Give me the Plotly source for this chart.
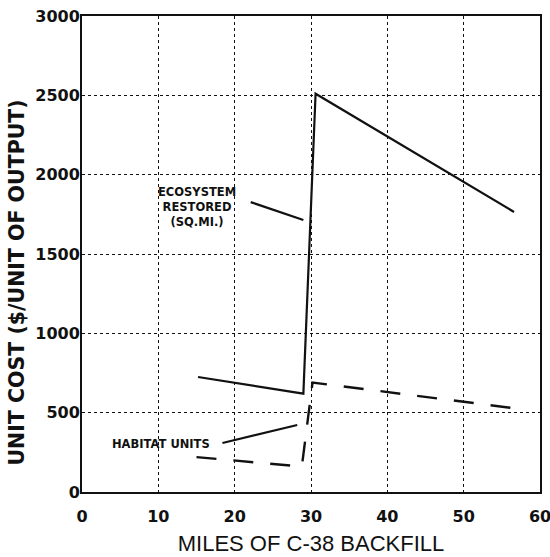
import plotly.graph_objects as go

# Ecosystem restored (sq. mi.) unit cost, solid line
eco_miles = [15.2, 29.0, 30.6, 56.6]
eco_cost = [725, 620, 2510, 1765]

# Habitat units unit cost, dashed line
hab_miles = [15.0, 28.8, 30.2, 56.3]
hab_cost = [220, 160, 690, 530]

# leader lines from the labels to the curves
eco_leader_x = [22.1, 29.0]
eco_leader_y = [1827, 1714]
hab_leader_x = [18.4, 28.2]
hab_leader_y = [309, 422]

x_ticks = [0, 10, 20, 30, 40, 50, 60]
y_ticks = [0, 500, 1000, 1500, 2000, 2500, 3000]

INK = "#111111"
BOLD_FONT = "DejaVu Sans, Arial, sans-serif"
PLAIN_FONT = "Liberation Sans, Arial, sans-serif"

fig = go.Figure()
fig.add_trace(go.Scatter(x=eco_miles, y=eco_cost, mode="lines",
                         line=dict(color=INK, width=2.2)))
fig.add_trace(go.Scatter(x=hab_miles, y=hab_cost, mode="lines",
                         line=dict(color=INK, width=2.4, dash="20px,17px")))
fig.add_trace(go.Scatter(x=eco_leader_x, y=eco_leader_y, mode="lines",
                         line=dict(color=INK, width=2.2)))
fig.add_trace(go.Scatter(x=hab_leader_x, y=hab_leader_y, mode="lines",
                         line=dict(color=INK, width=2.2)))

fig.add_annotation(x=15.1, y=1796, text="ECOSYSTEM<br>RESTORED<br>(SQ.MI.)",
                   showarrow=False,
                   font=dict(family=BOLD_FONT, size=11.5, color=INK, weight="bold"))
fig.add_annotation(x=10.3, y=302, text="HABITAT UNITS",
                   showarrow=False,
                   font=dict(family=BOLD_FONT, size=11.5, color=INK, weight="bold"))

# y-axis title sits a little below the plot's middle in the original
fig.add_annotation(xref="paper", yref="paper", x=-0.142, y=0.44,
                   xanchor="center", yanchor="middle",
                   text="UNIT COST ($/UNIT OF OUTPUT)", textangle=-90, showarrow=False,
                   font=dict(family=BOLD_FONT, size=20.5, color=INK, weight="bold"))

axis_common = dict(
    showline=True, linecolor=INK, linewidth=2, mirror=True,
    showgrid=True, gridcolor=INK, gridwidth=1, griddash="dot",
    zeroline=False, ticks="", automargin=False, ticklabeloverflow="allow",
    tickfont=dict(family=BOLD_FONT, size=16, color=INK, weight="bold"),
)
fig.update_xaxes(range=[0, 60], tickvals=x_ticks, ticklabelstandoff=9,
                 title=dict(text="MILES OF C-38 BACKFILL", standoff=10,
                            font=dict(family=PLAIN_FONT, size=22, color=INK)),
                 **axis_common)
fig.update_yaxes(range=[0, 3000], tickvals=y_ticks, ticklabelstandoff=-3, **axis_common)

fig.update_layout(
    width=550, height=557, showlegend=False,
    paper_bgcolor="white", plot_bgcolor="white",
    margin=dict(l=82, r=10, t=16, b=65),
)
# drop the browser's default body margin so the figure fills the window exactly
fig.write_html("out.html", config={"displayModeBar": False},
               post_script="document.body.style.margin = '0px';")
